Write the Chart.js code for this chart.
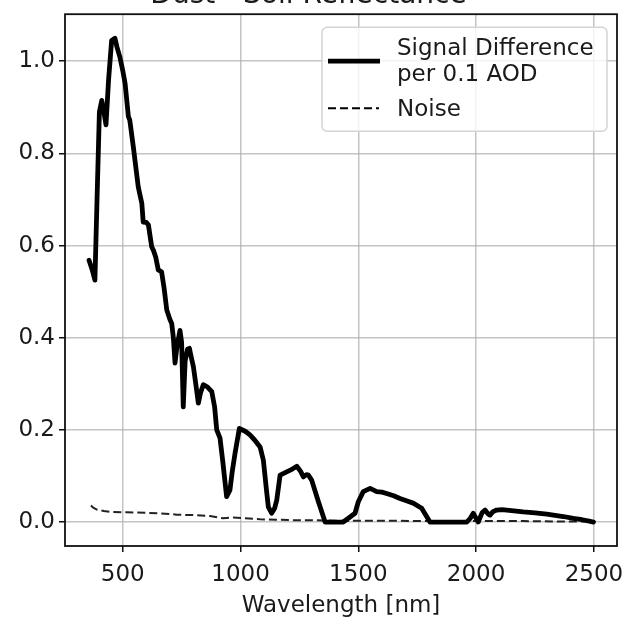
<!DOCTYPE html>
<html>
<head>
<meta charset="utf-8">
<script src="https://cdn.jsdelivr.net/npm/chart.js@4/dist/chart.umd.min.js"></script>
<style>
    html, body { margin: 0; padding: 0; background: #fff; overflow: hidden; }
    #wrap { width: 626px; height: 664px; margin-top: -40px; }
</style>
</head>
<body>
<div id="wrap"><canvas id="chart" width="626" height="664"></canvas></div>
<script>
// ============================================
// DATA
// ============================================

const chartTitle = 'Dust - Soil Reflectance';
const xLabel = 'Wavelength [nm]';
const seriesNames = ['Signal Difference\nper 0.1 AOD', 'Noise'];

const xTicks = [500, 1000, 1500, 2000, 2500];
const yTicks = [0.0, 0.2, 0.4, 0.6, 0.8, 1.0];

const signalWl = [357, 370, 382, 392, 401, 411, 420, 429, 440, 453, 467, 476, 488, 500, 510, 524, 530, 545, 566, 581,
    587, 600, 609, 623, 630, 640, 651, 665, 675, 687, 700, 708, 715, 722, 730, 743, 750, 757, 765, 775,
    783, 790, 800, 810, 821, 830, 842, 860, 878, 890, 899, 913, 925, 941, 955, 965, 977, 995, 1020, 1040,
    1060, 1083, 1097, 1110, 1118, 1132, 1145, 1154, 1168, 1196, 1220, 1239, 1255, 1267, 1280, 1288, 1302, 1330, 1359, 1400,
    1436, 1465, 1486, 1500, 1521, 1550, 1578, 1600, 1620, 1650, 1677, 1710, 1733, 1769, 1790, 1804, 1850, 1900, 1960, 1975,
    1988, 2000, 2009, 2025, 2038, 2050, 2059, 2070, 2087, 2110, 2150, 2200, 2250, 2300, 2328, 2370, 2413, 2450, 2480, 2498];
const signalVal = [0.568, 0.548, 0.525, 0.72, 0.89, 0.915, 0.89, 0.862, 0.96, 1.045, 1.05, 1.03, 1.009, 0.98, 0.952, 0.88, 0.872, 0.814, 0.727, 0.692,
    0.651, 0.65, 0.645, 0.597, 0.59, 0.575, 0.547, 0.543, 0.51, 0.46, 0.44, 0.431, 0.40, 0.345, 0.38, 0.416, 0.39, 0.25, 0.35, 0.375,
    0.377, 0.36, 0.337, 0.30, 0.258, 0.28, 0.298, 0.293, 0.283, 0.25, 0.2, 0.182, 0.13, 0.055, 0.069, 0.11, 0.15, 0.203, 0.197, 0.189,
    0.178, 0.163, 0.134, 0.07, 0.033, 0.019, 0.03, 0.048, 0.102, 0.109, 0.115, 0.121, 0.11, 0.098, 0.103, 0.102, 0.091, 0.045, 0.0, 0.0,
    0.0, 0.011, 0.019, 0.044, 0.066, 0.073, 0.066, 0.065, 0.062, 0.057, 0.051, 0.045, 0.041, 0.030, 0.012, 0.0, 0.0, 0.0, 0.0, 0.008,
    0.019, 0.008, 0.0, 0.02, 0.026, 0.018, 0.015, 0.022, 0.026, 0.027, 0.025, 0.022, 0.02, 0.017, 0.015, 0.012, 0.008, 0.005, 0.002, 0.0];

const noiseWl = [365, 375, 390, 420, 446, 517, 600, 658, 730, 800, 870, 927, 969, 1020, 1083, 1150, 1224, 1300, 1400, 1600, 1800, 2000, 2200, 2400, 2498];
const noiseVal = [0.036, 0.031, 0.027, 0.024, 0.022, 0.021, 0.020, 0.019, 0.016, 0.015, 0.013, 0.008, 0.010, 0.008, 0.006, 0.005, 0.004, 0.004, 0.003, 0.003, 0.002, 0.002, 0.002, 0.001, 0.001];

// ============================================
// STYLE
// ============================================

const FONT = 'DejaVu Sans';
const TEXT = '#1a1a1a';
const GRID = 'rgba(176, 176, 176, 0.75)';

function toPoints(xs, ys) {
    return xs.map((x, i) => ({ x: x, y: ys[i] }));
}

// frame round the plot area (matplotlib spines)
const framePlugin = {
    id: 'frame',
    afterDraw(chart) {
        const a = chart.chartArea;
        const ctx = chart.ctx;
        ctx.save();
        ctx.strokeStyle = '#111';
        ctx.lineWidth = 1.8;
        ctx.strokeRect(a.left, a.top, a.right - a.left, a.bottom - a.top);
        ctx.restore();
    }
};

// legend drawn inside the axes, upper right
const insideLegend = {
    id: 'insideLegend',
    afterDatasetsDraw(chart) {
        const a = chart.chartArea;
        const ctx = chart.ctx;
        const bx = a.left + 257, by = a.top + 13, bw = 285, bh = 104;
        ctx.save();
        ctx.beginPath();
        ctx.roundRect(bx, by, bw, bh, 5);
        ctx.fillStyle = 'rgba(255, 255, 255, 0.8)';
        ctx.fill();
        ctx.strokeStyle = '#d4d4d4';
        ctx.lineWidth = 1.5;
        ctx.stroke();

        ctx.strokeStyle = '#000';
        ctx.lineWidth = 4.8;
        ctx.beginPath();
        ctx.moveTo(bx + 6, by + 34);
        ctx.lineTo(bx + 58, by + 34);
        ctx.stroke();

        ctx.lineWidth = 2;
        ctx.setLineDash([8, 4]);
        ctx.beginPath();
        ctx.moveTo(bx + 6, by + 81);
        ctx.lineTo(bx + 57, by + 81);
        ctx.stroke();
        ctx.setLineDash([]);

        ctx.fillStyle = TEXT;
        ctx.font = '23px "' + FONT + '"';
        ctx.textBaseline = 'middle';
        ctx.textAlign = 'left';
        const lines = seriesNames[0].split('\n');
        ctx.fillText(lines[0], bx + 75, by + 21.5);
        ctx.fillText(lines[1], bx + 75, by + 48);
        ctx.fillText(seriesNames[1], bx + 75, by + 82.5);
        ctx.restore();
    }
};

// ============================================
// CHART
// ============================================

new Chart(document.getElementById('chart'), {
    type: 'line',
    data: {
        datasets: [
            {
                label: 'Signal',
                data: toPoints(signalWl, signalVal),
                borderColor: '#000',
                borderWidth: 4.8,
                pointRadius: 0,
                tension: 0,
                borderJoinStyle: 'round',
                borderCapStyle: 'round'
            },
            {
                label: 'Noise',
                data: toPoints(noiseWl, noiseVal),
                borderColor: '#222',
                borderWidth: 2,
                borderDash: [8, 4],
                pointRadius: 0,
                tension: 0
            }
        ]
    },
    options: {
        responsive: false,
        animation: false,
        layout: { padding: { left: 0, right: 9, top: 0, bottom: 0 } },
        plugins: {
            legend: { display: false },
            tooltip: { enabled: false },
            title: {
                display: true,
                text: chartTitle,
                color: TEXT,
                font: { family: FONT, size: 28, weight: 'normal' },
                padding: { top: 19, bottom: 1.6 }
            }
        },
        scales: {
            x: {
                type: 'linear',
                min: 255,
                max: 2598,
                afterBuildTicks: axis => { axis.ticks = xTicks.map(v => ({ value: v })); },
                afterFit: axis => {
                    axis.height = 78;
                    axis.paddingLeft = 0;
                    axis.paddingRight = 0;
                },
                ticks: {
                    color: TEXT,
                    font: { family: FONT, size: 23 },
                    padding: 9,
                    maxRotation: 0,
                    callback: v => String(v)
                },
                grid: { color: GRID, lineWidth: 1.5, tickLength: 6, tickColor: '#111', tickWidth: 1.5 },
                border: { display: false },
                title: {
                    display: true,
                    text: xLabel,
                    color: TEXT,
                    font: { family: FONT, size: 23 },
                    padding: { top: 2, bottom: 4 }
                }
            },
            y: {
                type: 'linear',
                min: -0.052,
                max: 1.102,
                afterBuildTicks: axis => { axis.ticks = yTicks.map(v => ({ value: v })); },
                afterFit: axis => {
                    axis.width = 65;
                    axis.paddingTop = 0;
                    axis.paddingBottom = 0;
                },
                ticks: {
                    color: TEXT,
                    font: { family: FONT, size: 23 },
                    padding: 4,
                    callback: v => v.toFixed(1)
                },
                grid: { color: GRID, lineWidth: 1.5, tickLength: 6, tickColor: '#111', tickWidth: 1.5 },
                border: { display: false }
            }
        }
    },
    plugins: [insideLegend, framePlugin]
});
</script>
</body>
</html>
